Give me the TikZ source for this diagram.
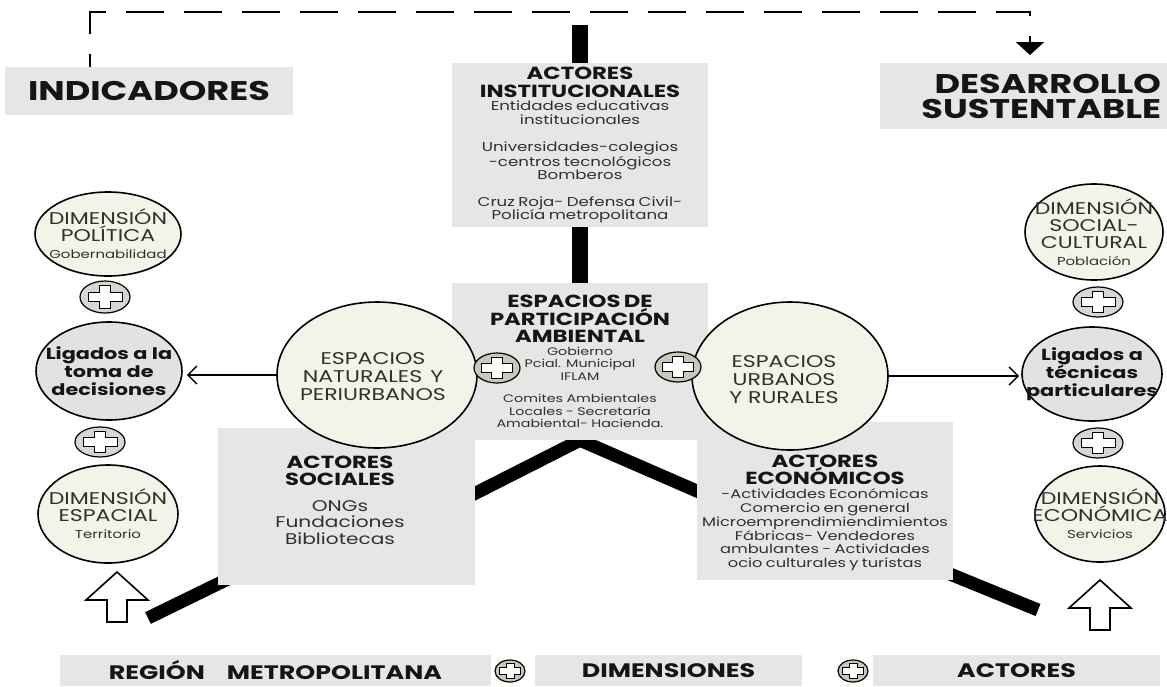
\documentclass[tikz,border=0pt]{standalone}
\usepackage{fontspec}
\setmainfont{Poppins}[FakeStretch=1.3]
\usetikzlibrary{shapes.geometric, arrows.meta, backgrounds}

\definecolor{boxgray}{HTML}{E6E6E6}
\definecolor{creamfill}{HTML}{F3F4E7}
\definecolor{ligfill}{HTML}{E2E2E2}
\definecolor{plusgray}{HTML}{D6D6D2}
\definecolor{plusgreen}{HTML}{C7CABA}
\definecolor{titleink}{HTML}{151515}
\definecolor{inkgray}{HTML}{303030}

\newcommand{\fntTitle}{\fontsize{27}{25}\selectfont\bfseries}
\newcommand{\fntFoot}{\fontsize{19.5}{20}\selectfont\bfseries}
\newcommand{\fntHead}{\fontsize{17.5}{17.5}\selectfont\bfseries}
\newcommand{\fntInst}{\fontsize{12.8}{13.5}\selectfont}
\newcommand{\fntPart}{\fontsize{11}{12.5}\selectfont}
\newcommand{\fntSoc}{\fontsize{15.5}{16.5}\selectfont}
\newcommand{\fntEco}{\fontsize{12.5}{13.8}\selectfont}
\newcommand{\fntOval}{\fontsize{17}{17}\selectfont}
\newcommand{\fntSmall}{\fontsize{11.5}{14}\selectfont}
\newcommand{\fntLig}{\fontsize{16}{18}\selectfont\bfseries}
\newcommand{\fntSpace}{\fontsize{17}{18}\selectfont}

\tikzset{
  gray box/.style={fill=boxgray, inner sep=0pt, text=titleink},
  title text/.style={font=\fntTitle, align=center},
  foot text/.style={font=\fntFoot, align=center},
  dim oval/.style={ellipse, draw, line width=1.6pt, fill=creamfill, inner sep=0pt},
  lig oval/.style={dim oval, fill=ligfill},
  oval text/.style={font=\fntOval, align=center, text=inkgray},
  plus oval/.style={ellipse, draw, line width=1.2pt, inner sep=0pt},
  plus cross/.style={draw, fill=white, line width=0.9pt, line join=miter},
  heavy bar/.style={line width=13pt, line cap=butt, line join=round},
  side arrow/.style={line width=1.5pt, -{Straight Barb[length=9pt,width=18pt]}},
  hollow arrow/.style={draw, line width=1.6pt, fill=white, line join=miter}
}
\tikzset{
  feedback line/.style={
    line width=2.6pt,
    dash pattern=on 38pt off 20pt, dash phase=25pt,
    -{Triangle[width=28pt,length=13pt]}
  }
}

\begin{document}
\begin{tikzpicture}[x=1pt, y=-1pt]
    \useasboundingbox (0,0) rectangle (1167,686);

    % Title boxes
    \node[gray box, title text, minimum width=288pt, minimum height=48pt] (indic) at (149,91) {INDICADORES};
    \node[gray box, title text, minimum width=287pt, minimum height=66pt, text width=275pt, align=right] (desa) at (1023.5,96) {DESARROLLO\\SUSTENTABLE};

    % Feedback line
    \coordinate (dl) at (90,12);
    \coordinate (dr) at (1030,12);
    \coordinate (dtip) at (1030,55);
    \draw[feedback line] (indic.north -| dl) -- (dl) -- (dr) -- (dtip);

    % Actor boxes
    \node[gray box, minimum width=256pt, minimum height=164pt, text width=236pt, align=center] (inst) at (580,145) {%
      {\fntHead ACTORES\\INSTITUCIONALES\par}
      {\fntInst\color{inkgray} Entidades educativas\\institucionales\par}
      \vspace{14pt}
      {\fntInst\color{inkgray} Universidades-colegios\\-centros tecnológicos\\Bomberos\par}
      \vspace{13pt}
      {\fntInst\color{inkgray} Cruz Roja- Defensa Civil-\\Policía metropolitana\par}};
    \node[gray box, minimum width=256pt, minimum height=157pt, text width=236pt, align=center] (part) at (580,361.5) {%
      {\fntHead ESPACIOS DE\\PARTICIPACIÓN\\AMBIENTAL\par}
      {\fntPart\color{inkgray} Gobierno\\Pcial. Municipal\\IFLAM\par}
      \vspace{10pt}
      {\fntPart\color{inkgray} Comites Ambientales\\Locales - Secretaría\\Amabiental- Hacienda.\par}};
    \node[gray box, minimum width=257pt, minimum height=157pt] (soc) at (346.5,506.5) {};
    \node[text width=240pt, align=center, text=titleink] (soctext) at (340,500) {%
      {\fntHead ACTORES\\SOCIALES\par}
      \vspace{9pt}
      {\fntSoc\color{inkgray} ONGs\\Fundaciones\\Bibliotecas\par}};
    \node[gray box, minimum width=256pt, minimum height=158pt] (eco) at (825,501) {};
    \node[text width=250pt, align=center, text=titleink] (ecotext) at (825,513) {%
      {\fntHead ACTORES\\ECONÓMICOS\par}
      {\fntEco\color{inkgray} -Actividades Económicas\\Comercio en general\\Microemprendimiendimientos\\Fábricas- Vendedores\\ambulantes - Actividades\\ocio culturales y turistas\par}};

    % Bottom boxes
    \node[gray box, foot text, minimum width=431pt, minimum height=31pt] (region) at (275.5,670.5) {REGIÓN\hspace{22pt}METROPOLITANA};
    \node[gray box, foot text, minimum width=267pt, minimum height=31pt] (dims) at (668.5,670.5) {DIMENSIONES};
    \node[gray box, foot text, minimum width=287pt, minimum height=31pt] (acts) at (1016.5,670.5) {ACTORES};

    % Dimension ovals
    \node[dim oval, minimum width=146pt, minimum height=84pt,
      label={[oval text]center:{DIMENSIÓN\\POLÍTICA\\{\fntSmall Gobernabilidad}}}] (dpol) at (108,234) {};
    \node[lig oval, minimum width=146pt, minimum height=98pt,
      label={[oval text, font=\fntLig, text=titleink]center:{Ligados a la\\toma de\\decisiones}}] (ligI) at (109,371) {};
    \node[dim oval, minimum width=140pt, minimum height=98pt,
      label={[oval text]center:{DIMENSIÓN\\ESPACIAL\\{\fntSmall Territorio}}}] (dspa) at (108,514) {};
    \node[dim oval, minimum width=138pt, minimum height=96pt,
      label={[oval text]center:{DIMENSIÓN\\SOCIAL-\\CULTURAL\\{\fntSmall Población}}}] (dsoc) at (1094,232) {};
    \node[lig oval, minimum width=140pt, minimum height=94pt,
      label={[oval text, font=\fntLig, text=titleink]center:{Ligados a\\técnicas\\particulares}}] (ligD) at (1092,374) {};
    \node[dim oval, minimum width=130pt, minimum height=96pt,
      label={[oval text]center:{DIMENSIÓN\\ECONÓMICA\\{\fntSmall Servicios}}}] (deco) at (1100,514) {};

    % Space ovals
    \node[dim oval, minimum width=200pt, minimum height=146pt,
      label={[oval text, font=\fntSpace, xshift=-4pt, yshift=-2pt]center:{ESPACIOS\\NATURALES\hspace{8pt}Y\\PERIURBANOS}}] (natur) at (377,375) {};
    \node[dim oval, minimum width=196pt, minimum height=148pt,
      label={[oval text, font=\fntSpace, xshift=-6pt, yshift=-4pt]center:{ESPACIOS\\URBANOS\\Y RURALES}}] (urban) at (790,376) {};

    % Plus signs
    \foreach \n/\x/\y/\rx/\ry/\col in {pA/105/297/25/16/plusgray, pB/100/442/25/15/plusgray,
        pC/1098/302/25/15/plusgray, pD/1098/443/25/15/plusgray, pE/497/368/23/15/plusgreen,
        pF/678/367/23/15/plusgreen, pG/510/671/15/11/plusgreen, pH/853/671/15/11/plusgreen} {
        \node[plus oval, fill=\col, minimum width=2*\rx pt, minimum height=2*\ry pt] (\n) at (\x,\y) {};
        \pgfmathsetmacro\pa{0.68*\rx}
        \pgfmathsetmacro\pb{0.72*\ry}
        \pgfmathsetmacro\pwx{0.36*\ry}
        \pgfmathsetmacro\pwy{0.28*\ry}
        \draw[plus cross] (\n.center) ++(-\pa,-\pwy) -- ++({\pa-\pwx},0) -- ++(0,{\pwy-\pb})
            -- ++({2*\pwx},0) -- ++(0,{\pb-\pwy}) -- ++({\pa-\pwx},0) -- ++(0,{2*\pwy})
            -- ++({\pwx-\pa},0) -- ++(0,{\pb-\pwy}) -- ++({-2*\pwx},0) -- ++(0,{\pwy-\pb})
            -- ++({\pwx-\pa},0) -- cycle;
    }

    % Arrows to the side ovals
    \draw[side arrow] (natur.west) -- ([xshift=4pt]ligI.east |- natur.west);
    \draw[side arrow] (urban.east) -- ([xshift=-2pt]ligD.west |- urban.east);

    % Hollow arrows
    \foreach \tx/\ty in {117/572, 1100/580}
        \draw[hollow arrow] (\tx,\ty) -- ++(31,28) -- ++(-21,0) -- ++(0,22) -- ++(-20,0)
            -- ++(0,-22) -- ++(-21,0) -- cycle;

    % Heavy bars
    \coordinate (bartop) at (580,25);
    \coordinate (armL) at (466,498);
    \coordinate (armLb) at (232,577);
    \coordinate (footL) at (148,618);
    \coordinate (armR) at (706,495);
    \coordinate (armRb) at (945,572);
    \coordinate (footR) at (1038,610);
    \begin{scope}[on background layer]
        \draw[heavy bar, line width=16pt] (bartop) -- (part.south);
        \draw[heavy bar] (part.south) -- (armL) -- (armLb) -- (footL);
        \draw[heavy bar] (part.south) -- (armR) -- (armRb) -- (footR);
    \end{scope}
\end{tikzpicture}
\end{document}
